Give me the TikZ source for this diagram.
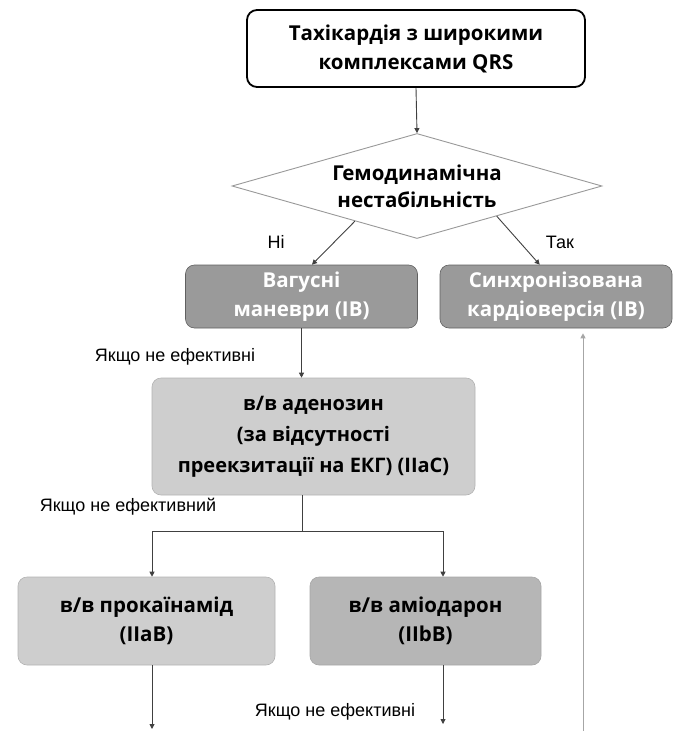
\documentclass[tikz,border=0pt]{standalone}
\usepackage{fontspec}
\setmainfont{Open Sans}
\newfontfamily\labelfont{Liberation Sans}
\usetikzlibrary{shapes.geometric,arrows.meta,calc}
\definecolor{boxdark}{HTML}{9A9A9A}
\definecolor{boxmid}{HTML}{B6B6B6}
\definecolor{boxlight}{HTML}{CECECE}
\definecolor{linec}{HTML}{404040}
\begin{document}
\begin{tikzpicture}[x=1pt,y=-1pt,
  every node/.style={align=center,inner sep=0pt},
  bigtext/.style={font=\fontsize{20.5}{29}\selectfont\bfseries},
  startbox/.style={bigtext,draw=black,line width=1.8pt,rounded corners=10pt,fill=white,
    minimum width=338pt,minimum height=77pt},
  decision/.style={bigtext,diamond,draw=gray!80,line width=0.9pt,fill=white,
    minimum width=370pt,minimum height=105pt,shape aspect=3.5,
    font=\fontsize{20.5}{27}\selectfont\bfseries},
  graybox/.style={bigtext,draw=gray!75!black,line width=0.6pt,rounded corners=9pt},
  darkbox/.style={graybox,fill=boxdark,text=white,minimum width=232pt,minimum height=63pt},
  lightbox/.style={graybox,fill=boxlight,draw=gray!60},
  midbox/.style={graybox,fill=boxmid,draw=gray!70},
  lbl/.style={font=\labelfont\fontsize{18}{21}\selectfont},
  conn/.style={draw=linec,line width=0.9pt},
  arr/.style={conn,-{Triangle[width=5pt,length=5pt]}},
  garr/.style={draw=gray!70,line width=0.9pt,-{Triangle[width=5pt,length=5pt]}}]
\useasboundingbox (0,0) rectangle (676,731);

\node[startbox] (start) at (416,48.5) {Тахікардія з широкими\\комплексами QRS};
\node[decision] (dia) at (417,186) {Гемодинамічна\\нестабільність};
\node[darkbox] (vag) at (301.5,296.5) {Вагусні\\маневри (IB)};
\node[darkbox] (syn) at (556,296.5) {Синхронізована\\кардіоверсія (IB)};
\node[lightbox,minimum width=323pt,minimum height=117pt,
  font=\fontsize{20}{31}\selectfont\bfseries] (aden) at (313.5,436.5)
  {в/в аденозин\\(за відсутності\\преекзитації на ЕКГ) (IIaC)};
\node[lightbox,minimum width=257pt,minimum height=88pt] (proc) at (146.5,621)
  {в/в прокаїнамід\\(IIaB)};
\node[midbox,minimum width=231pt,minimum height=88pt] (amio) at (425.5,621)
  {в/в аміодарон\\(IIbB)};

\node[lbl] (no) at (276,242) {Ні};
\node[lbl] (yes) at (560,242) {Так};
\node[lbl] (ne1) at (175,357) {Якщо не ефективні};
\node[lbl] (ne2) at (128,507) {Якщо не ефективний};
\node[lbl] (ne3) at (335,712) {Якщо не ефективні};

\coordinate (split) at (302,531);
\coordinate (splitL) at (152,531);
\coordinate (splitR) at (443,531);
\coordinate (endL) at (152,729);
\coordinate (endR) at (443,724);
\coordinate (bottomR) at (583,731);

\draw[arr] (start.south) -- (dia.north);
\draw[arr] ($(dia.west)!0.665!(dia.south)$) -- ($(vag.north west)!0.545!(vag.north east)$);
\draw[arr] ($(dia.south)!0.43!(dia.east)$) -- ($(syn.north west)!0.43!(syn.north east)$);
\draw[arr] (vag.south) -- (vag.south |- aden.north);
\draw[conn] (aden.south -| split) -- (split);
\draw[conn] (splitL) -- (splitR);
\draw[arr] (splitL) -- (splitL |- proc.north);
\draw[arr] (splitR) -- (splitR |- amio.north);
\draw[arr] (proc.south -| endL) -- (endL);
\draw[arr] (amio.south -| endR) -- (endR);
\draw[garr] (bottomR) -- ($(syn.south -| bottomR)+(0,5)$);
\end{tikzpicture}
\end{document}
